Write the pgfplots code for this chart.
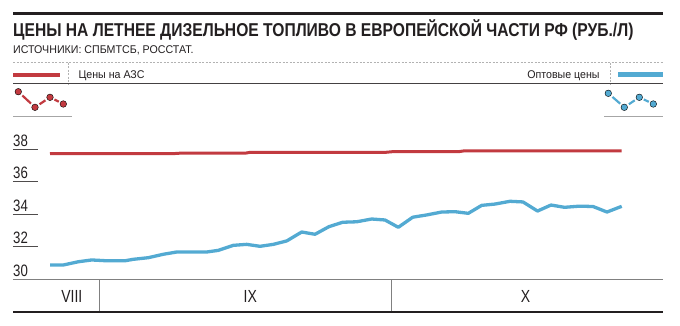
\documentclass[border=0pt]{standalone}
\usepackage{pgfplots}
\pgfplotsset{compat=1.18}
\usepackage{fontspec}
\setmainfont{Liberation Sans}
\newfontfamily\cond{Liberation Sans}[FakeStretch=0.8]
\newfontfamily\condt{Liberation Sans}[FakeStretch=0.84]
\newfontfamily\conds{Liberation Sans}[FakeStretch=0.95]
\definecolor{redl}{RGB}{194,58,64}
\definecolor{bluel}{RGB}{83,170,210}
\definecolor{ink}{RGB}{35,31,32}
\begin{document}
\begin{tikzpicture}[x=1pt,y=-1pt]
\useasboundingbox (0,0) rectangle (680,326);
% header
\fill[ink] (13,11.7) rectangle (662.7,15);
\node[anchor=base west, inner sep=0, font=\condt\bfseries\fontsize{18.6}{20}\selectfont, text=ink] at (13,36.7) {ЦЕНЫ НА ЛЕТНЕЕ ДИЗЕЛЬНОЕ ТОПЛИВО В ЕВРОПЕЙСКОЙ ЧАСТИ РФ (РУБ./Л)};
\node[anchor=base west, inner sep=0, font=\conds\fontsize{11.2}{13}\selectfont, text=ink] at (13,54) {ИСТОЧНИКИ: СПБМТСБ, РОССТАТ.};
% legend row
\draw[gray!60, line width=0.6pt, dash pattern=on 2pt off 1.5pt] (13,62.7) -- (662.7,62.7);
\draw[gray!60, line width=0.6pt, dash pattern=on 2pt off 1.5pt] (68.3,62.7) -- (68.3,84);
\draw[gray!60, line width=0.6pt, dash pattern=on 2pt off 1.5pt] (610.7,62.7) -- (610.7,84);
\fill[redl] (13,72.7) rectangle (60,77.3);
\fill[bluel] (618.3,72.5) rectangle (662.7,77.1);
\node[anchor=base west, inner sep=0, font=\conds\fontsize{11.2}{13}\selectfont, text=ink] at (78.3,78.7) {Цены на АЗС};
\node[anchor=base east, inner sep=0, font=\conds\fontsize{11.2}{13}\selectfont, text=ink] at (599.8,78.5) {Оптовые цены};
\draw[ink!85, line width=1pt] (13,84) -- (662.7,84);
\draw[gray!70, line width=1.5pt] (13,116.7) -- (71.7,116.7);
\draw[gray!70, line width=1.5pt] (604.3,116.7) -- (662.7,116.7);
% icons
\begin{axis}[at={(13pt,-88pt)}, anchor=north west, scale only axis, width=60pt, height=24pt,
  xmin=13, xmax=73, ymin=88, ymax=112, y dir=reverse, hide axis, clip=false]
\addplot[redl, line width=2.2pt, shorten >=5.5pt, shorten <=5.5pt] coordinates {(18.3,91.7) (35,107.3)};
\addplot[redl, line width=2.2pt, shorten >=5.5pt, shorten <=5.5pt] coordinates {(35,107.3) (50,97.3)};
\addplot[redl, line width=2.2pt, shorten >=5pt, shorten <=5pt] coordinates {(50,97.3) (63.3,104)};
\addplot[only marks, mark=*, mark size=3.3pt, mark options={fill=redl, draw=none}] coordinates {(18.3,91.7) (35,107.3) (50,97.3) (63.3,104)};
\end{axis}
\begin{axis}[at={(604pt,-88pt)}, anchor=north west, scale only axis, width=60pt, height=24pt,
  xmin=604, xmax=664, ymin=88, ymax=112, y dir=reverse, hide axis, clip=false]
\addplot[bluel, line width=2.2pt, shorten >=5.5pt, shorten <=5.5pt] coordinates {(608.3,93.3) (624.3,107.3)};
\addplot[bluel, line width=2.2pt, shorten >=5.5pt, shorten <=5.5pt] coordinates {(624.3,107.3) (639.3,97.3)};
\addplot[bluel, line width=2.2pt, shorten >=5pt, shorten <=5pt] coordinates {(639.3,97.3) (653.3,104)};
\addplot[only marks, mark=*, mark size=3.3pt, mark options={fill=bluel, draw=none}] coordinates {(608.3,93.3) (624.3,107.3) (639.3,97.3) (653.3,104)};
\end{axis}
% main chart
\begin{axis}[at={(13pt,-279.3pt)}, anchor=south west, scale only axis,
  width=649.7pt, height=139.3pt, xmin=13, xmax=662.7, ymin=30, ymax=38.572,
  axis x line*=bottom, axis y line*=left,
  x axis line style={draw=none}, y axis line style={draw=none},
  xtick=\empty, ytick={30,32,34,36,38},
  tick align=inside, major tick length=24.7pt,
  tick style={ink!80, line width=0.8pt},
  yticklabel style={anchor=south west, inner sep=0pt, yshift=2.5pt,
    font=\cond\fontsize{16.5}{18}\selectfont, text=ink},
  /pgf/number format/assume math mode=true, clip=false]
\addplot[redl, line width=3pt, line join=round] coordinates {
(50,37.73) (175,37.74) (180,37.76) (245,37.76) (250,37.81) (385,37.81) (392,37.85) (458,37.85) (465,37.91) (621.7,37.91)};
\addplot[bluel, line width=3.3pt, line join=round] coordinates {
(50,30.88) (63.3,30.88) (78.3,31.08) (91.7,31.19) (106.7,31.14) (125,31.14) (133.3,31.23) (148.3,31.33) (163.3,31.54) (176.7,31.68) (191.7,31.68) (206.7,31.68) (218.3,31.78) (233.3,32.09) (246.7,32.15) (260,32.03) (273.3,32.15) (286.7,32.36) (301.7,32.91) (315,32.77) (329,33.24) (342.7,33.51) (356.7,33.54) (371.7,33.71) (385,33.65) (398.3,33.20) (412.7,33.82) (426.7,33.96) (441.7,34.14) (455,34.16) (468.3,34.06) (481.7,34.55) (495,34.63) (510,34.80) (523,34.76) (537.5,34.20) (551,34.57) (564.5,34.43) (579.5,34.50) (593,34.48) (607,34.14) (621.7,34.49)};
\end{axis}
% bottom month band
\draw[gray, line width=1pt] (13,279.3) -- (662.7,279.3);
\draw[gray, line width=0.8pt] (99.3,279.3) -- (99.3,311.7);
\draw[gray, line width=0.8pt] (391.7,279.3) -- (391.7,311.7);
\draw[ink, line width=1.7pt] (13,311.7) -- (662.7,311.7);
\node[anchor=base, inner sep=0, font=\cond\fontsize{17.5}{19}\selectfont, text=ink] at (71.8,302.7) {VIII};
\node[anchor=base, inner sep=0, font=\cond\fontsize{17.5}{19}\selectfont, text=ink] at (250.3,302.7) {IX};
\node[anchor=base, inner sep=0, font=\cond\fontsize{17.5}{19}\selectfont, text=ink] at (525.5,302.7) {X};
\end{tikzpicture}
\end{document}
